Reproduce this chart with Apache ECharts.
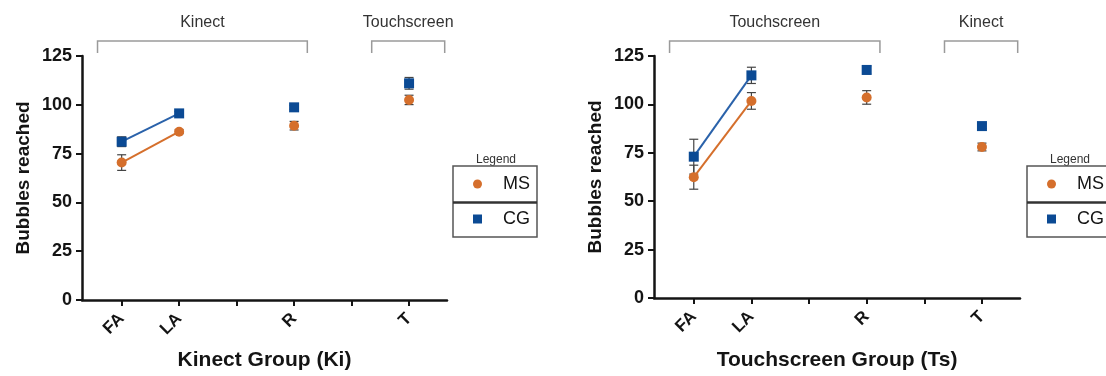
<!DOCTYPE html>
<html>
<head>
<meta charset="utf-8">
<script src="https://cdn.jsdelivr.net/npm/echarts@6/dist/echarts.min.js"></script>
<style>
  html, body { margin: 0; padding: 0; background: #fff; }
  #chart { width: 1106px; height: 376px; }
</style>
</head>
<body>
<div id="chart"></div>
<script>
// stages along the x axis, and the slot each one sits in (slots 3 and 5 are empty)
const stages = ['FA', 'LA', 'R', 'T']
const stageSlots = [1, 2, 4, 6]
const tickSlots = [1, 2, 3, 4, 5, 6]
const yTicks = [0, 25, 50, 75, 100, 125]

// Kinect group (Ki)
const kiMS = [70.4, 86.2, 89.3, 102.5]
const kiMSErr = [4.0, 1.0, 2.2, 2.4]
const kiCG = [81.1, 95.6, 98.7, 111.0]
const kiCGErr = [2.5, 1.0, 1.0, 3.0]

// Touchscreen group (Ts)
const tsMS = [62.4, 101.8, 103.6, 78.0]
const tsMSErr = [6.2, 4.3, 3.5, 2.0]
const tsCG = [73.0, 115.0, 117.8, 88.8]
const tsCGErr = [9.0, 4.2, 2.0, 1.2]

// brackets over the stages: [from slot, to slot]
const bracketSpans = [[0.58, 4.23], [5.35, 6.62]]
const kiBracketLabels = ['Kinect', 'Touchscreen']
const tsBracketLabels = ['Touchscreen', 'Kinect']

const ORANGE = '#d56f2c'
const BLUE = '#0b4a94'
const BLUE_LINE = '#2a62aa'
const INK = '#141414'
const FONT = '"Liberation Sans", Arial, Helvetica, sans-serif'

const chart = echarts.init(document.getElementById('chart'))

function xAxisFor(gridIndex, name, gap) {
  return {
    type: 'value',
    gridIndex,
    min: 0.31,
    max: 6.66,
    name,
    nameLocation: 'middle',
    nameGap: gap,
    nameTextStyle: { fontFamily: FONT, fontSize: 21, fontWeight: 'bold', color: INK },
    axisLine: { show: true, lineStyle: { color: INK, width: 2.5 } },
    axisTick: { show: true, customValues: tickSlots, length: 6, lineStyle: { color: INK, width: 2 } },
    axisLabel: {
      customValues: stageSlots,
      formatter: v => stages[stageSlots.indexOf(v)] || '',
      rotate: 45,
      margin: 16,
      fontFamily: FONT,
      fontSize: 17,
      fontWeight: 'bold',
      color: INK
    },
    splitLine: { show: false }
  }
}

function yAxisFor(gridIndex) {
  return {
    type: 'value',
    gridIndex,
    min: 0,
    max: 125,
    interval: 25,
    name: 'Bubbles reached',
    nameLocation: 'middle',
    nameGap: 49,
    nameTextStyle: { fontFamily: FONT, fontSize: 19, fontWeight: 'bold', color: INK },
    axisLine: { show: true, lineStyle: { color: INK, width: 2.5 } },
    axisTick: { show: true, length: 6, lineStyle: { color: INK, width: 2 } },
    axisLabel: {
      customValues: yTicks,
      margin: 10,
      fontFamily: FONT,
      fontSize: 18,
      fontWeight: 'bold',
      color: INK
    },
    splitLine: { show: false }
  }
}

function points(values, from, to) {
  return values.slice(from, to).map((v, i) => [stageSlots[from + i], v])
}

function errorSeries(axis, values, errs) {
  return {
    type: 'custom',
    xAxisIndex: axis,
    yAxisIndex: axis,
    zlevel: 0,
    z: 1,
    silent: true,
    data: values.map((v, i) => [stageSlots[i], v, errs[i]]),
    renderItem(params, api) {
      const x = api.value(0), y = api.value(1), e = api.value(2)
      const hi = api.coord([x, y + e])
      const lo = api.coord([x, y - e])
      const w = 4.5
      const style = { stroke: '#444', lineWidth: 1.2 }
      return {
        type: 'group',
        children: [
          { type: 'line', shape: { x1: hi[0], y1: hi[1], x2: lo[0], y2: lo[1] }, style },
          { type: 'line', shape: { x1: hi[0] - w, y1: hi[1], x2: hi[0] + w, y2: hi[1] }, style },
          { type: 'line', shape: { x1: lo[0] - w, y1: lo[1], x2: lo[0] + w, y2: lo[1] }, style }
        ]
      }
    }
  }
}

function groupSeries(axis, name, values, errs, symbol, color, lineColor) {
  return [
    errorSeries(axis, values, errs),
    {
      name, type: 'line', xAxisIndex: axis, yAxisIndex: axis, zlevel: 1, z: 3,
      data: points(values, 0, 2),
      symbol, symbolSize: 10,
      itemStyle: { color },
      lineStyle: { color: lineColor, width: 2 }
    },
    {
      name, type: 'scatter', xAxisIndex: axis, yAxisIndex: axis, zlevel: 1, z: 3,
      data: points(values, 2, 4),
      symbol, symbolSize: 10,
      itemStyle: { color, opacity: 1 }
    }
  ]
}

function legendAt(left) {
  return {
    data: [{ name: 'MS', icon: 'circle' }, { name: 'CG', icon: 'rect' }],
    orient: 'vertical',
    left,
    top: 175,
    padding: 0,
    itemWidth: 9,
    itemHeight: 9,
    itemGap: 17,
    selectedMode: false,
    textStyle: { fontFamily: FONT, fontSize: 18, color: INK, padding: [0, 0, 0, 16] }
  }
}

function legendBox(x0) {
  return [
    { type: 'text', x: x0 + 43, y: 160, style: { text: 'Legend', fontFamily: FONT, fontSize: 12, fill: '#333', align: 'center', verticalAlign: 'middle' } },
    { type: 'rect', shape: { x: x0, y: 166, width: 84, height: 71 }, style: { fill: 'none', stroke: '#555', lineWidth: 1.5 } },
    { type: 'line', shape: { x1: x0, y1: 202.5, x2: x0 + 84, y2: 202.5 }, style: { stroke: '#333', lineWidth: 2.5 } }
  ]
}

chart.setOption({
  animation: false,
  backgroundColor: '#fff',
  grid: [
    { left: 82, right: 659, top: 56, bottom: 76 },
    { left: 654, right: 86, top: 56, bottom: 76 }
  ],
  xAxis: [xAxisFor(0, 'Kinect Group (Ki)', 50), xAxisFor(1, 'Touchscreen Group (Ts)', 52)],
  yAxis: [yAxisFor(0), yAxisFor(1)],
  legend: [legendAt(473), legendAt(1047)],
  series: [
    ...groupSeries(0, 'MS', kiMS, kiMSErr, 'circle', ORANGE, ORANGE),
    ...groupSeries(0, 'CG', kiCG, kiCGErr, 'rect', BLUE, BLUE_LINE),
    ...groupSeries(1, 'MS', tsMS, tsMSErr, 'circle', ORANGE, ORANGE),
    ...groupSeries(1, 'CG', tsCG, tsCGErr, 'rect', BLUE, BLUE_LINE)
  ]
})

// brackets above each panel, placed from the x axis scale
function brackets(axis, labels) {
  const out = []
  bracketSpans.forEach((span, i) => {
    const a = chart.convertToPixel({ xAxisIndex: axis }, span[0])
    const b = chart.convertToPixel({ xAxisIndex: axis }, span[1])
    out.push({
      type: 'polyline',
      shape: { points: [[a, 53], [a, 41], [b, 41], [b, 53]] },
      style: { fill: 'none', stroke: '#9a9a9a', lineWidth: 1.5 }
    })
    out.push({
      type: 'text', x: (a + b) / 2, y: 23,
      style: { text: labels[i], fontFamily: FONT, fontSize: 16, fill: '#333', align: 'center', verticalAlign: 'middle' }
    })
  })
  return out
}

chart.setOption({
  graphic: [
    ...brackets(0, kiBracketLabels),
    ...brackets(1, tsBracketLabels),
    ...legendBox(453),
    ...legendBox(1027)
  ]
})
</script>
</body>
</html>
